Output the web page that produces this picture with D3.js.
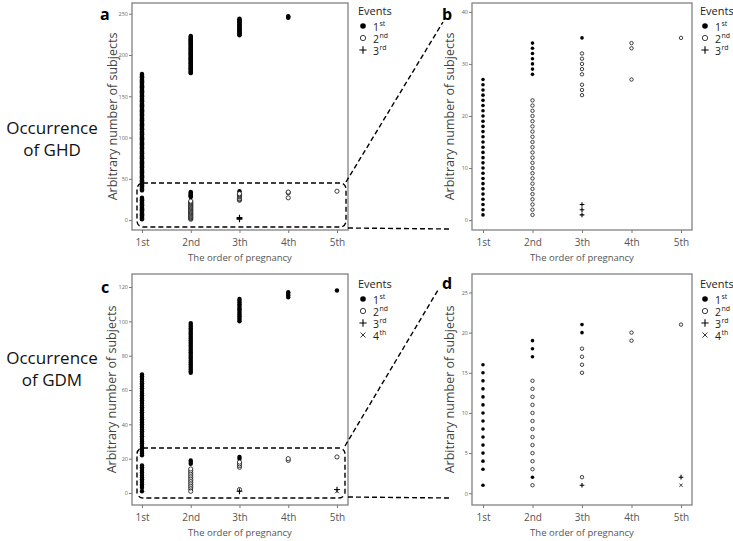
<!DOCTYPE html>
<html><head><meta charset="utf-8">
<script src="https://cdn.jsdelivr.net/npm/d3@7"></script>
<style>body{margin:0;background:#fff} svg{display:block}</style>
</head><body><svg id="chart" width="733" height="541"></svg>
<script>
// ---- data ----
const orders = ["1st", "2nd", "3th", "4th", "5th"];
const ghdTicks = [0, 50, 100, 150, 200, 250];
const ghdZoomTicks = [0, 10, 20, 30, 40];
const gdmTicks = [0, 20, 40, 60, 80, 100, 120];
const gdmZoomTicks = [0, 5, 10, 15, 20, 25];
const eventLabels = [["1", "st"], ["2", "nd"], ["3", "rd"], ["4", "th"]];
// highest subject number inside each dashed zoom window
const ghdZoomMax = 35;
const gdmZoomMax = 21;
// runs of consecutive subject numbers: [order of pregnancy, first subject, last subject]
const ghd1st = [[1, 1, 27], [1, 36, 177], [2, 28, 34], [2, 178, 223], [3, 35, 35], [3, 224, 244], [4, 245, 247]];
const ghd2nd = [[2, 1, 23], [3, 24, 26], [3, 28, 32], [4, 27, 27], [4, 33, 34], [5, 35, 35]];
const ghd3rd = [[3, 1, 3]];
const gdm1st = [[1, 1, 1], [1, 3, 16], [1, 22, 69], [2, 2, 2], [2, 17, 19], [2, 70, 99], [3, 20, 21], [3, 100, 113], [4, 114, 117], [5, 118, 118]];
const gdm2nd = [[2, 1, 1], [2, 3, 14], [3, 2, 2], [3, 15, 18], [4, 19, 20], [5, 21, 21]];
const gdm3rd = [[3, 1, 1], [5, 2, 2]];
const gdm4th = [[5, 1, 1]];

function expand(runs) {
  const out = [];
  runs.forEach(([o, a, b]) => { for (let v = a; v <= b; v++) out.push({ o: o, v: v }); });
  return out;
}

const svg = d3.select("#chart");
const FONT = "'Open Sans','Noto Sans',sans-serif";
const symTypes = ["filled", "open", "plus", "cross"];

function drawSym(g, type, x, y, r) {
  if (type === "filled") {
    g.append("circle").attr("cx", x).attr("cy", y).attr("r", r).attr("fill", "#000");
  } else if (type === "open") {
    g.append("circle").attr("cx", x).attr("cy", y).attr("r", r * 0.95).attr("fill", "#fff")
      .attr("stroke", "#111").attr("stroke-width", 0.8);
  } else if (type === "plus") {
    const s = r * 1.3;
    g.append("path").attr("d", `M${x - s},${y}H${x + s}M${x},${y - s}V${y + s}`)
      .attr("stroke", "#000").attr("stroke-width", 1.1);
  } else {
    const s = r * 0.9;
    g.append("path").attr("d", `M${x - s},${y - s}L${x + s},${y + s}M${x - s},${y + s}L${x + s},${y - s}`)
      .attr("stroke", "#222").attr("stroke-width", 0.9);
  }
}

function panel(o) {
  const x = d3.scaleLinear().domain(o.xd).range([o.x0, o.x1]);
  const y = d3.scaleLinear().domain(o.yd).range([o.y1, o.y0]);
  const g = svg.append("g");
  g.append("rect").attr("x", o.x0).attr("y", o.y0).attr("width", o.x1 - o.x0).attr("height", o.y1 - o.y0)
    .attr("fill", "none").attr("stroke", "#8a8a8a").attr("stroke-width", 1.4);
  const ya = g.append("g").attr("transform", `translate(${o.x0},0)`)
    .call(d3.axisLeft(y).tickValues(o.yTicks).tickSize(3).tickPadding(1));
  ya.select(".domain").remove();
  ya.selectAll("line").attr("stroke", "#777");
  ya.selectAll("text").attr("font-size", 5.5).attr("fill", "#666").attr("font-family", FONT);
  const xa = g.append("g").attr("transform", `translate(0,${o.y1})`)
    .call(d3.axisBottom(x).tickValues([1, 2, 3, 4, 5]).tickFormat((d, i) => orders[i]).tickSize(3).tickPadding(6));
  xa.select(".domain").remove();
  xa.selectAll("line").attr("stroke", "#777");
  xa.selectAll("text").attr("font-size", 10).attr("fill", "#555").attr("font-family", FONT);
  g.append("text").attr("x", (o.x0 + o.x1) / 2).attr("y", o.y1 + 31).attr("text-anchor", "middle")
    .attr("font-size", 9.5).attr("fill", "#555").attr("font-family", FONT).text("The order of pregnancy");
  g.append("text").attr("transform", `translate(${o.titleX},${(o.y0 + o.y1) / 2}) rotate(-90)`)
    .attr("text-anchor", "middle").attr("font-size", 12.5).attr("fill", "#444").attr("font-family", FONT)
    .text("Arbitrary number of subjects");
  g.append("text").attr("x", o.letterX).attr("y", o.letterY).attr("font-size", 16).attr("font-weight", "bold")
    .attr("font-family", FONT).attr("fill", "#000").text(o.letter);
  const pg = g.append("g");
  o.series.forEach((runs, si) => {
    expand(runs).forEach(p => {
      if (p.v >= o.yd[0] && p.v <= o.vmax) drawSym(pg, symTypes[si], x(p.o), y(p.v), o.r);
    });
  });
  const lg = g.append("g");
  lg.append("text").attr("x", o.lx - 4).attr("y", o.ly).attr("font-size", 11).attr("fill", "#222")
    .attr("font-family", FONT).text("Events");
  o.series.forEach((runs, si) => {
    const yy = o.ly + 11 + si * 12;
    drawSym(lg, symTypes[si], o.lx + 1, yy, 2.8);
    lg.append("text").attr("x", o.lx + 11).attr("y", yy + 5).attr("font-size", 10.5)
      .attr("fill", "#222").attr("font-family", FONT).text(eventLabels[si][0]);
    lg.append("text").attr("x", o.lx + 17.5).attr("y", yy).attr("font-size", 7)
      .attr("fill", "#222").attr("font-family", FONT).text(eventLabels[si][1]);
  });
}

panel({ x0: 132, x1: 348, y0: 3, y1: 230, xd: [0.795, 5.226], yd: [-12, 263], vmax: 263, yTicks: ghdTicks,
  series: [ghd1st, ghd2nd, ghd3rd], r: 2.2, letter: "a", letterX: 100, letterY: 20, titleX: 117,
  lx: 362, ly: 15 });
panel({ x0: 472, x1: 692, y0: 3, y1: 230, xd: [0.778, 5.222], yd: [-1.9, 41.7], vmax: ghdZoomMax, yTicks: ghdZoomTicks,
  series: [ghd1st, ghd2nd, ghd3rd], r: 1.8, letter: "b", letterX: 442, letterY: 20, titleX: 454,
  lx: 704, ly: 15 });
panel({ x0: 132, x1: 348, y0: 274, y1: 505, xd: [0.795, 5.226], yd: [-7, 127.6], vmax: 127.6, yTicks: gdmTicks,
  series: [gdm1st, gdm2nd, gdm3rd, gdm4th], r: 2.2, letter: "c", letterX: 101, letterY: 293, titleX: 116,
  lx: 362, ly: 288 });
panel({ x0: 472, x1: 692, y0: 274, y1: 505, xd: [0.778, 5.222], yd: [-1.46, 27.3], vmax: gdmZoomMax, yTicks: gdmZoomTicks,
  series: [gdm1st, gdm2nd, gdm3rd, gdm4th], r: 1.8, letter: "d", letterX: 442, letterY: 289, titleX: 454,
  lx: 704, ly: 288 });

const dash = "5,3";
function zoomBox(x0, y0, x1, y1, lines) {
  svg.append("rect").attr("x", x0).attr("y", y0).attr("width", x1 - x0).attr("height", y1 - y0)
    .attr("rx", 6).attr("ry", 6).attr("fill", "none").attr("stroke", "#000").attr("stroke-width", 1.4)
    .attr("stroke-dasharray", dash);
  lines.forEach(l => svg.append("line").attr("x1", l[0]).attr("y1", l[1]).attr("x2", l[2]).attr("y2", l[3])
    .attr("stroke", "#000").attr("stroke-width", 1.4).attr("stroke-dasharray", dash));
}
zoomBox(137, 183, 346, 227, [[346, 182, 443, 22], [348, 228, 450, 229]]);
zoomBox(137, 448, 345, 498, [[345, 446, 438, 290], [348, 497, 450, 498]]);

function rowLabel(lines, y) {
  const t = svg.append("text").attr("x", 52).attr("y", y).attr("text-anchor", "middle")
    .attr("font-size", 17).attr("fill", "#111").attr("font-family", FONT);
  lines.forEach((s, i) => t.append("tspan").attr("x", 52).attr("dy", i ? 22 : 0).text(s));
}
rowLabel(["Occurrence", "of GHD"], 134);
rowLabel(["Occurrence", "of GDM"], 364);
</script></body></html>
